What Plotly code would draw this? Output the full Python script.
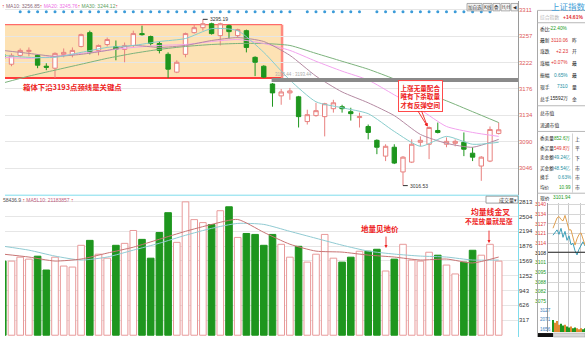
import plotly.graph_objects as go

W, H = 585, 340
CJK = "Noto Sans CJK SC"
NUM = "Liberation Sans"

# ---------------- data ----------------
candle_idx = list(range(-1, 57))
opens = [3236.5, 3219.9, 3234.8, 3241.4, 3234.8, 3216.6, 3213.3, 3236.5, 3236.5, 3249.7,
         3272.9, 3243.1, 3253.0, 3249.7, 3244.8, 3251.4, 3271.3, 3266.3, 3254.7, 3236.5,
         3206.7, 3236.5, 3272.9, 3281.2, 3287.8, 3267.9, 3284.5, 3267.9, 3276.2, 3231.5,
         3216.6, 3186.8, 3166.9, 3171.9, 3165.3, 3123.8, 3133.8, 3132.1, 3145.4, 3148.7,
         3140.4, 3130.5, 3115.6, 3092.4, 3065.9, 3080.8, 3039.4, 3055.9, 3089.1, 3085.8,
         3108.9, 3085.8, 3087.4, 3089.1, 3070.8, 3049.3, 3057.6, 3104.0]
highs = [3239.8, 3238.1, 3246.4, 3248.1, 3236.5, 3221.6, 3239.8, 3246.4, 3248.1, 3271.3,
         3276.2, 3253.0, 3264.6, 3259.7, 3256.3, 3276.2, 3284.5, 3267.9, 3258.0, 3239.8,
         3226.5, 3272.9, 3286.2, 3295.19, 3289.5, 3289.5, 3286.2, 3279.5, 3277.9, 3233.2,
         3218.3, 3188.4, 3178.5, 3180.2, 3166.9, 3143.7, 3155.3, 3155.3, 3160.3, 3152.0,
         3147.0, 3138.8, 3118.9, 3094.0, 3085.8, 3085.8, 3065.9, 3094.0, 3099.0, 3115.6,
         3122.2, 3097.3, 3094.0, 3105.6, 3080.8, 3065.9, 3115.6, 3122.2]
lows = [3226.5, 3216.6, 3231.5, 3233.2, 3213.3, 3210.0, 3196.7, 3231.5, 3231.5, 3248.1,
        3236.5, 3234.8, 3249.7, 3226.5, 3223.2, 3248.1, 3267.9, 3251.4, 3238.1, 3196.7,
        3205.0, 3231.5, 3271.3, 3276.2, 3269.6, 3251.4, 3263.0, 3264.6, 3239.8, 3200.0,
        3196.7, 3148.7, 3152.0, 3160.3, 3113.9, 3118.9, 3132.1, 3099.0, 3138.8, 3138.8,
        3125.5, 3113.9, 3094.0, 3069.2, 3057.6, 3052.6, 3016.53, 3054.3, 3082.4, 3060.9,
        3104.0, 3080.8, 3082.4, 3065.9, 3057.6, 3024.5, 3055.9, 3102.3]
closes = [3229.8, 3234.8, 3243.1, 3243.1, 3218.3, 3214.9, 3238.1, 3239.8, 3243.1, 3269.6,
          3239.8, 3251.4, 3261.3, 3244.8, 3251.4, 3271.3, 3269.6, 3254.7, 3243.1, 3211.6,
          3223.2, 3271.3, 3281.2, 3287.8, 3271.3, 3287.8, 3274.6, 3277.9, 3248.1, 3223.2,
          3198.4, 3171.9, 3173.5, 3175.2, 3132.1, 3135.4, 3142.1, 3153.7, 3155.3, 3145.4,
          3137.1, 3132.1, 3105.6, 3080.8, 3082.4, 3054.3, 3064.2, 3085.8, 3092.4, 3113.9,
          3105.6, 3090.7, 3090.7, 3077.5, 3064.2, 3064.2, 3110.6, 3110.06]
volumes = [1560, 1560, 1643, 1602, 1664, 1373, 1643, 1456, 1435, 1893,
           1997, 1706, 1622, 1893, 1934, 2205, 2018, 1622, 2163, 2580,
           1955, 2808, 2434, 2371, 2330, 2621, 2704, 2059, 2142, 2122,
           1893, 2122, 1914, 1643, 1872, 1539, 1706, 2122, 1622, 1539,
           1643, 1768, 1768, 1810, 1352, 1602, 1914, 1581, 1560, 1747,
           1685, 1477, 1290, 1539, 1789, 1685, 1914, 1560]
signal_idx = [1, 2, 3, 4, 5, 6, 7, 8, 9, 10, 11, 12, 13, 14, 15, 16, 17, 18, 19, 20,
              21, 22, 23, 24, 25, 26, 27, 28, 29, 30, 31, 32, 34, 35, 36, 37, 38, 39, 40,
              42, 43, 44, 45, 46, 47, 48, 49, 50, 51, 52, 53, 54, 55]

ma_x = [-1, 2, 5, 8, 11, 14, 17, 20, 23, 26, 29, 32, 35, 38, 41, 44, 47, 50, 53, 56]
ma5 = [3234.8, 3231.5, 3231.5, 3239.8, 3248.1, 3251.4, 3258.0, 3263.0, 3279.5, 3276.2,
       3239.8, 3193.4, 3157.0, 3147.0, 3137.1, 3107.3, 3082.4, 3099.0, 3085.8, 3089.1]
ma10 = [3243.1, 3238.1, 3233.2, 3236.5, 3243.1, 3251.4, 3248.1, 3251.4, 3259.7, 3264.6,
        3258.0, 3234.8, 3200.0, 3173.5, 3155.3, 3133.8, 3102.3, 3087.4, 3080.8, 3094.0]
ma20 = [3231.5, 3229.8, 3233.2, 3238.1, 3243.1, 3248.1, 3251.4, 3253.0, 3258.0, 3261.3,
        3254.7, 3243.1, 3224.9, 3208.3, 3193.4, 3168.6, 3143.7, 3115.6, 3105.6, 3099.0]
ma30 = [3188.4, 3200.0, 3210.0, 3219.9, 3229.8, 3238.1, 3244.8, 3249.7, 3253.0, 3254.7,
        3254.7, 3251.4, 3238.1, 3224.9, 3211.6, 3195.1, 3175.2, 3158.6, 3140.4, 3122.2]
vol_ma5 = [1708, 1646, 1562, 1604, 1729, 1854, 2021, 2187, 2333, 2437,
           2166, 1916, 1771, 1750, 1687, 1646, 1583, 1604, 1521, 1646]
vol_ma10 = [1875, 1791, 1666, 1583, 1646, 1791, 1937, 2104, 2250, 2354,
            2333, 2187, 2041, 1896, 1771, 1708, 1666, 1646, 1583, 1583]

price_ticks = ["3311", "3257", "3222", "3176", "3134", "3090", "3046"]
vol_ticks = ["2813", "2504", "2194", "1876", "1569", "1252", "943", "626", "317"]

box_range = (3196.7, 3286.2)      # consolidation box
neckline = 3193.44
peak_high = 3295.19
trough_low = 3016.53

# intraday mini chart
minute_idx = list(range(17))
intraday_price = [3124.1, 3128.0, 3131.0, 3132.0, 3130.0, 3129.0, 3132.7, 3128.0, 3123.0,
                  3123.0, 3118.0, 3112.8, 3117.0, 3120.0, 3121.0, 3117.5, 3112.8]
intraday_avg = [3119.4, 3121.0, 3123.0, 3120.0, 3124.0, 3118.0, 3122.0, 3116.0, 3119.0,
                3113.0, 3114.0, 3109.0, 3106.2, 3110.0, 3113.0, 3115.0, 3112.2]
intraday_vol = [13, 10, 12, 8, 9, 7, 8, 6, 5, 6, 4, 5, 4, 3, 4, 3, 4]
mini_ticks = ["3140", "3134", "3127", "3121", "3114", "3108", "3101", "3095", "3088", "3082", "3075"]
mini_vol_ticks = ["3127", "2071", "1656"]

# quote panel
quote_labels = ["委比", "最新", "涨跌", "涨幅", "振幅", "现手", "总手"]
quote_values = ["-22.40%", "3110.06", "+2.23", "+0.07%", "0.65%", "7310", "15592万"]
quote_suffix = ["", "昨", "开", "最", "最", "量", "金"]
order_labels = ["委卖量", "委买量", "卖金额", "买金额", "换手", "均价"]
order_values = ["852.6万", "549.8万", "49.24亿", "48.54亿", "0.63%", "10.99"]
order_suffix = ["上", "平", "下", "市", "市", "市"]

# ---------------- colours ----------------
RED = "#ee2222"
UPC = "#e8817f"
DNC = "#1e961e"
GREEN_T = "#1a9a1a"
TEAL_T = "#1d8fa3"
RED_T = "#e0302f"

up = [c >= o for o, c in zip(opens, closes)]

fig = go.Figure()

# ---------------- price panel ----------------
fig.add_trace(go.Candlestick(
    x=candle_idx, open=opens, high=highs, low=lows, close=closes,
    increasing=dict(line=dict(color=UPC, width=1), fillcolor="#ffffff"),
    decreasing=dict(line=dict(color=DNC, width=1), fillcolor=DNC),
    whiskerwidth=0, xaxis="x", yaxis="y", hoverinfo="skip", showlegend=False))

for ys, col in [(ma30, "#7cb27c"), (ma20, "#f2a2ee"), (ma10, "#b48aa2"), (ma5, "#88cccc")]:
    fig.add_trace(go.Scatter(x=ma_x, y=ys, mode="lines", xaxis="x", yaxis="y",
                             line=dict(color=col, width=1, shape="spline", smoothing=0.6),
                             hoverinfo="skip", showlegend=False))

dot_level = 3307.7
fig.add_trace(go.Scatter(x=signal_idx, y=[dot_level] * len(signal_idx), mode="markers",
                         marker=dict(size=3, color="#3b9bd8"), xaxis="x", yaxis="y",
                         hoverinfo="skip", showlegend=False))

# ---------------- volume panel ----------------
fig.add_trace(go.Bar(
    x=candle_idx, y=volumes, width=0.76, xaxis="x2", yaxis="y2",
    marker=dict(color=["#ffffff" if u else DNC for u in up],
                line=dict(color=["#e89a9a" if u else DNC for u in up], width=1)),
    hoverinfo="skip", showlegend=False))
fig.add_trace(go.Scatter(x=ma_x, y=vol_ma10, mode="lines", xaxis="x2", yaxis="y2",
                         line=dict(color="#90cad2", width=1, shape="spline", smoothing=0.6),
                         hoverinfo="skip", showlegend=False))
fig.add_trace(go.Scatter(x=ma_x, y=vol_ma5, mode="lines", xaxis="x2", yaxis="y2",
                         line=dict(color="#c87474", width=1, shape="spline", smoothing=0.6),
                         hoverinfo="skip", showlegend=False))

# ---------------- mini intraday chart ----------------
fig.add_trace(go.Scatter(x=minute_idx, y=intraday_avg, mode="lines", xaxis="x3", yaxis="y3",
                         line=dict(color="#3d9fb8", width=1), hoverinfo="skip", showlegend=False))
fig.add_trace(go.Scatter(x=minute_idx, y=intraday_price, mode="lines", xaxis="x3", yaxis="y3",
                         line=dict(color="#e0a050", width=1), hoverinfo="skip", showlegend=False))
mini_cols = [DNC if i == 0 or intraday_price[i] < intraday_price[i - 1] else "#e08a30"
             for i in range(len(intraday_price))]
fig.add_trace(go.Bar(x=minute_idx, y=intraday_vol, width=0.8, xaxis="x4", yaxis="y4",
                     marker=dict(color=mini_cols, line=dict(width=0)),
                     hoverinfo="skip", showlegend=False))

# ---------------- axes ----------------
def py(y):
    return 1 - y / H

x_lo, x_hi = -0.747, 58.22
p_step = (3311 - 3046) / 160.0
p_top = 3311 + 3 * p_step
p_bot = 3046 - 27 * p_step
price_tv = [3311 - k * (265 / 6.0) for k in range(7)]
v_step = (2813 - 317) / 120.0
vol_tv = [2813 - k * 312 for k in range(9)]
mini_tv = [3140 - k * 6.5 for k in range(11)]
mini_txt = []
for k, t in enumerate(mini_ticks):
    c = "#e04040" if k < 5 else ("#111111" if k == 5 else "#1a9a1a")
    mini_txt.append("<span style='color:%s'>%s</span>" % (c, t))

fig.update_layout(
    width=W, height=H, margin=dict(l=0, r=0, t=0, b=0),
    paper_bgcolor="white", plot_bgcolor="white", showlegend=False, boxgap=0.28,
    font=dict(family=CJK, size=6, color="#222"),
    xaxis=dict(domain=[5 / W, 518 / W], range=[x_lo, x_hi], showticklabels=False,
               showgrid=False, zeroline=False, ticks="", anchor="y",
               rangeslider=dict(visible=False)),
    yaxis=dict(domain=[py(196), py(6)], range=[p_bot, p_top], side="right",
               tickvals=price_tv, ticktext=price_ticks, ticks="",
               tickfont=dict(size=6, color="#dd5a5a", family=NUM),
               gridcolor="#e6e6e6", gridwidth=1, zeroline=False, anchor="x"),
    xaxis2=dict(domain=[5 / W, 518 / W], range=[x_lo, x_hi], showticklabels=False,
                showgrid=False, zeroline=False, ticks="", anchor="y2"),
    yaxis2=dict(domain=[0, py(197)], range=[-1.8 * v_step, 2813 + 6 * v_step], side="right",
                tickvals=vol_tv, ticktext=vol_ticks, ticks="",
                tickfont=dict(size=6, color="#333", family=NUM),
                gridcolor="#e6e6e6", gridwidth=1, zeroline=False, anchor="x2"),
    xaxis3=dict(domain=[548 / W, 1], range=[-2.5, 16], showticklabels=False,
                tickvals=[2.5, 7.5, 13.5], showgrid=True, gridcolor="#c8c8c8",
                zeroline=False, ticks="", anchor="y3"),
    yaxis3=dict(domain=[py(304), py(204)], range=[3075, 3141.3], side="left",
                tickvals=mini_tv, ticktext=mini_txt, ticks="",
                tickfont=dict(size=5, family=NUM), gridcolor="#d6d6d6",
                zeroline=False, anchor="x3", showline=True, linecolor="#999", linewidth=1),
    xaxis4=dict(domain=[548 / W, 1], range=[-2.5, 16], showticklabels=False,
                tickvals=[2.5, 7.5, 13.5], showgrid=True, gridcolor="#c8c8c8",
                zeroline=False, ticks="", anchor="y4"),
    yaxis4=dict(domain=[py(335), py(304)], range=[0, 33], showticklabels=False,
                showgrid=False, zeroline=False, anchor="x4",
                showline=True, linecolor="#999", linewidth=1),
)

# ---------------- shapes ----------------
shapes = []

def prect(x0, y0, x1, y1, fill=None, line="#999", lw=1, layer="above"):
    shapes.append(dict(type="rect", xref="paper", yref="paper", x0=x0 / W, x1=x1 / W,
                       y0=py(y1), y1=py(y0), fillcolor=fill or "rgba(0,0,0,0)",
                       line=dict(color=line, width=lw) if lw else dict(width=0), layer=layer))

def pline(x0, y0, x1, y1, color="#999", lw=1, layer="above"):
    shapes.append(dict(type="line", xref="paper", yref="paper", x0=x0 / W, x1=x1 / W,
                       y0=py(y0), y1=py(y1), line=dict(color=color, width=lw), layer=layer))

# consolidation box
shapes.append(dict(type="rect", xref="x", yref="y", x0=x_lo, x1=31.1, y0=box_range[0],
                   y1=box_range[1], fillcolor="#fde2b4", line=dict(width=0), layer="below"))
shapes.append(dict(type="line", xref="x", yref="y", x0=x_lo, x1=31.1, y0=box_range[1],
                   y1=box_range[1], line=dict(color="#ff4a4a", width=1), layer="below"))
shapes.append(dict(type="line", xref="x", yref="y", x0=x_lo, x1=31.1, y0=box_range[0],
                   y1=box_range[0], line=dict(color="#ff3b3b", width=2), layer="below"))
shapes.append(dict(type="line", xref="x", yref="y", x0=31.1, x1=31.1, y0=box_range[0],
                   y1=box_range[1], line=dict(color="#ff8a80", width=2.5), layer="below"))
# neckline bar
shapes.append(dict(type="line", xref="x", yref="y", x0=29.9, x1=x_hi, y0=neckline,
                   y1=neckline, line=dict(color="#8a8a8a", width=4), layer="above"))
# small leader lines for extreme labels
shapes.append(dict(type="line", xref="x", yref="y", x0=22, x1=22.55, y0=peak_high,
                   y1=peak_high, line=dict(color="#333", width=1)))
shapes.append(dict(type="line", xref="x", yref="y", x0=45, x1=45.55, y0=trough_low,
                   y1=trough_low, line=dict(color="#333", width=1)))

# panel borders
pline(5, 196.5, 518, 196.5, "#7fdcec", 1)
pline(518.5, 0, 518.5, 196.5, "#9a9a9a", 1)
pline(518.5, 196.5, 518.5, 340, "#7fdcec", 1)

# volume selector
prect(486, 197.5, 518, 204.5, fill="#ffffff", line="#888", lw=0.8)

# toolbar buttons
toolbar = [("加自选", 467, 482), ("K线", 483, 492), ("叠", 493, 500), ("H/H", 501, 510), ("◀", 511, 518)]
for lab, xa, xb in toolbar:
    prect(xa, 2.5, xb, 10, fill="#f4f4f4", line="#999", lw=0.8)

# quote panel frame
pline(537.5, 9.5, 537.5, 340, "#a8a8a8", 1)
for yy in [9.5, 22, 106, 132, 194.5]:
    pline(537.5, yy, 585, yy, "#b8b8b8", 1)
pline(572.5, 134, 572.5, 194, "#c8c8c8", 0.8)
# reference line in mini chart (previous close)
shapes.append(dict(type="line", xref="x3", yref="y3", x0=-2.5, x1=16, y0=3108, y1=3108,
                   line=dict(color="#222", width=1)))
# bottom tabs
prect(538, 336, 553, 340, fill="#111", line="#111", lw=0)
prect(553.5, 336, 585, 340, fill="#d8d8d8", line="#999", lw=0.5)

fig.update_layout(shapes=shapes)

# ---------------- annotations ----------------
anns = []

def txt(x, y, s, size=6, color="#222", xa="left", ya="middle", family=CJK, bold=False, **kw):
    d = dict(x=x / W, y=py(y), xref="paper", yref="paper", text=s, showarrow=False,
             xanchor=xa, yanchor=ya, borderpad=0,
             font=dict(size=size, color=color, family=family,
                       weight="bold" if bold else "normal"))
    d.update(kw)
    anns.append(d)

def arrow(xh, yh, dx, dy, color=RED):
    anns.append(dict(x=xh / W, y=py(yh), xref="paper", yref="paper", text="", showarrow=True,
                     ax=dx, ay=dy, axref="pixel", ayref="pixel", arrowhead=2, arrowsize=0.7,
                     arrowwidth=0.9, arrowcolor=color))

# MA legend
txt(1, 5, "<span style='color:#e03030'>↑</span> <span style='color:#8a6878'>MA10: 3256.85</span>"
          "<span style='color:#e03030'>↑</span> <span style='color:#ee70e6'>MA20: 3245.76</span>"
          "<span style='color:#e03030'>↑</span> <span style='color:#5e9e5e'>MA30: 3244.12</span>"
          "<span style='color:#e03030'>↑</span>", size=5, family=NUM)
# volume legend
txt(2, 201, "<span style='color:#555'>58436.9</span> <span style='color:#e03030'>↑</span> "
            "<span style='color:#c06080'>MA5L10: 21183857</span> <span style='color:#e03030'>↑</span>",
    size=5, family=NUM)

# extreme labels
anns.append(dict(x=22.6, y=peak_high, xref="x", yref="y", text="%.2f" % peak_high,
                 showarrow=False, xanchor="left", yanchor="middle",
                 font=dict(size=5, color="#333", family=NUM)))
anns.append(dict(x=45.6, y=trough_low, xref="x", yref="y", text="%.2f" % trough_low,
                 showarrow=False, xanchor="left", yanchor="middle",
                 font=dict(size=5, color="#333", family=NUM)))
anns.append(dict(x=30.1, y=neckline, xref="x", yref="y", yshift=6,
                 text="3193.44 : 3193.44", showarrow=False, xanchor="left",
                 font=dict(size=4.5, color="#aaaaaa", family=NUM)))

# red commentary
txt(22, 87, "箱体下沿3193点颈线是关键点", size=7.4, color=RED, bold=True)
txt(420, 96.5, "上涨无量配合<br>唯有下杀取量<br>才有反弹空间", size=6.6, color=RED,
    xa="center", bold=True, bordercolor="#ff4a4a", borderwidth=1, borderpad=1.5,
    bgcolor="rgba(255,255,255,0.92)")
arrow(427.5, 127, -10.5, -17)
arrow(427.5, 127, -6.5, -17)

txt(380, 230, "地量见地价", size=7.5, color=RED, xa="center", bold=True)
arrow(386, 250, 0, -13)
txt(490, 213, "均量线金叉", size=7.8, color=RED, xa="center", bold=True)
txt(489, 223, "不是放量就是涨", size=6.8, color=RED, xa="center", bold=True)
arrow(489, 245, 0, -14)

# volume selector text
txt(498, 201, "成交量", size=5, color="#333")
txt(513, 201, "▾", size=5, color="#333", family="DejaVu Sans")

# toolbar text
for lab, xa, xb in toolbar:
    txt((xa + xb) / 2.0, 6.5, lab, size=4.5, color="#333", xa="center",
        family=CJK if lab not in ("◀",) else "DejaVu Sans")

# quote panel
txt(550, 5.5, "上证指数", size=8.5, color="#44a0d8")
txt(539, 16, "综合指数", size=4.8, color="#b4b4b4")
txt(584, 16, "+14.61%", size=5, color=RED_T, xa="right", family=NUM, bold=True)
quote_y = [28, 39.5, 51, 62.5, 75, 87, 99]
quote_cols = [GREEN_T, RED_T, RED_T, RED_T, TEAL_T, TEAL_T, "#222"]
for lab, val, suf, yy, col in zip(quote_labels, quote_values, quote_suffix, quote_y, quote_cols):
    txt(538.5, yy, lab, size=4.8, color="#222")
    txt(569, yy, val, size=4.8, color=col, xa="right", family=NUM)
    if suf:
        txt(570.5, yy, suf, size=4.8, color="#222")
txt(538.5, 113, "总市值", size=4.8, color="#222")
txt(538.5, 125, "流通市值", size=4.8, color="#222")
order_y = [139, 149, 158.5, 169, 178.5, 188.5]
order_cols = [GREEN_T, RED_T, TEAL_T, TEAL_T, TEAL_T, GREEN_T]
for lab, val, suf, yy, col in zip(order_labels, order_values, order_suffix, order_y, order_cols):
    txt(538.5, yy, lab, size=4.6, color="#222")
    txt(572, yy, val, size=4.6, color=col, xa="right", family=NUM)
    txt(574, yy, suf, size=4.8, color="#222")
txt(538.5, 199, "现价", size=4.8, color="#222")
txt(572, 199, "3101.94", size=4.8, color=GREEN_T, xa="right", family=NUM)
for lab, yy in zip(mini_vol_ticks, [313, 322, 332]):
    txt(538.5, yy, lab, size=4.6, color="#3a7fc0", family=NUM)

fig.update_layout(annotations=anns)

fig.write_html("out.html")
